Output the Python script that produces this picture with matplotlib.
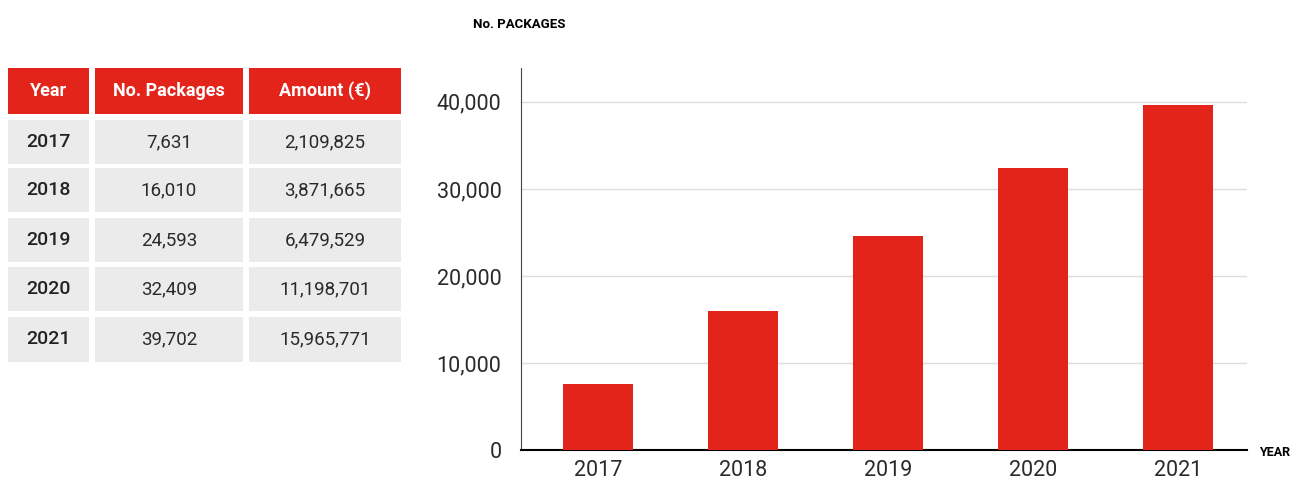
import matplotlib
matplotlib.use("Agg")
import matplotlib.pyplot as plt
from matplotlib.patches import Rectangle
from matplotlib.ticker import FuncFormatter

years = ["2017", "2018", "2019", "2020", "2021"]
packages = [7631, 16010, 24593, 32409, 39702]
amounts = ["2,109,825", "3,871,665", "6,479,529", "11,198,701", "15,965,771"]
headers = ["Year", "No. Packages", "Amount (€)"]

red = "#E3241A"
grey = "#EBEBEB"
dark = "#222222"

plt.rcParams["font.family"] = ["Roboto", "DejaVu Sans"]

W, H = 1294, 482
fig = plt.figure(figsize=(W / 100, H / 100), dpi=100)

# table drawn in pixel coordinates
tab = fig.add_axes([0, 0, 1, 1])
tab.set_xlim(0, W)
tab.set_ylim(H, 0)
tab.axis("off")

cols = [(8, 89), (95, 243), (249, 401)]
rows = [(68, 114), (120, 164), (168, 212), (218, 262), (267, 311), (317, 362)]

for c, (x0, x1) in enumerate(cols):
    y0, y1 = rows[0]
    tab.add_patch(Rectangle((x0, y0), x1 - x0, y1 - y0, color=red, lw=0))
    tab.text((x0 + x1) / 2, (y0 + y1) / 2, headers[c], color="white",
             fontsize=13, fontweight="bold", ha="center", va="center")

for r in range(len(years)):
    y0, y1 = rows[r + 1]
    cells = [years[r], f"{packages[r]:,}", amounts[r]]
    for c, (x0, x1) in enumerate(cols):
        tab.add_patch(Rectangle((x0, y0), x1 - x0, y1 - y0, color=grey, lw=0))
        tab.text((x0 + x1) / 2, (y0 + y1) / 2, cells[c], color=dark if c == 0 else "#2a2a2a",
                 fontsize=14 if c == 0 else 13.5,
                 fontweight="medium" if c == 0 else "normal",
                 ha="center", va="center")

# bar chart
left, right, bottom, top = 521, 1247, 450, 68
ax = fig.add_axes([left / W, 1 - bottom / H, (right - left) / W, (bottom - top) / H])
x = range(len(years))
ax.bar(x, packages, width=0.483, color=red, zorder=3)
ax.set_xlim(-0.53, 4.476)
ax.set_ylim(0, 43900)
ax.set_yticks([0, 10000, 20000, 30000, 40000])
ax.yaxis.set_major_formatter(FuncFormatter(lambda v, p: f"{int(v):,}"))
ax.set_xticks(list(x))
ax.set_xticklabels(years)
ax.grid(axis="y", color="#DDDDDD", lw=1, zorder=0)
for s in ["top", "right"]:
    ax.spines[s].set_visible(False)
ax.spines["left"].set_color("#444444")
ax.spines["bottom"].set_color("black")
ax.spines["bottom"].set_linewidth(1.5)
ax.tick_params(length=0, labelsize=15.5, colors="#2a2a2a", pad=14)
ax.tick_params(axis="x", pad=7)

fig.text(519 / W, 1 - 25 / H, "No. PACKAGES", fontsize=9.5, fontweight="bold",
         ha="center", va="center", color="black")
fig.text(1259 / W, 1 - 452 / H, "YEAR", fontsize=9, fontweight="bold",
         ha="left", va="center", color="black")

fig.savefig("out.png", dpi=100)
